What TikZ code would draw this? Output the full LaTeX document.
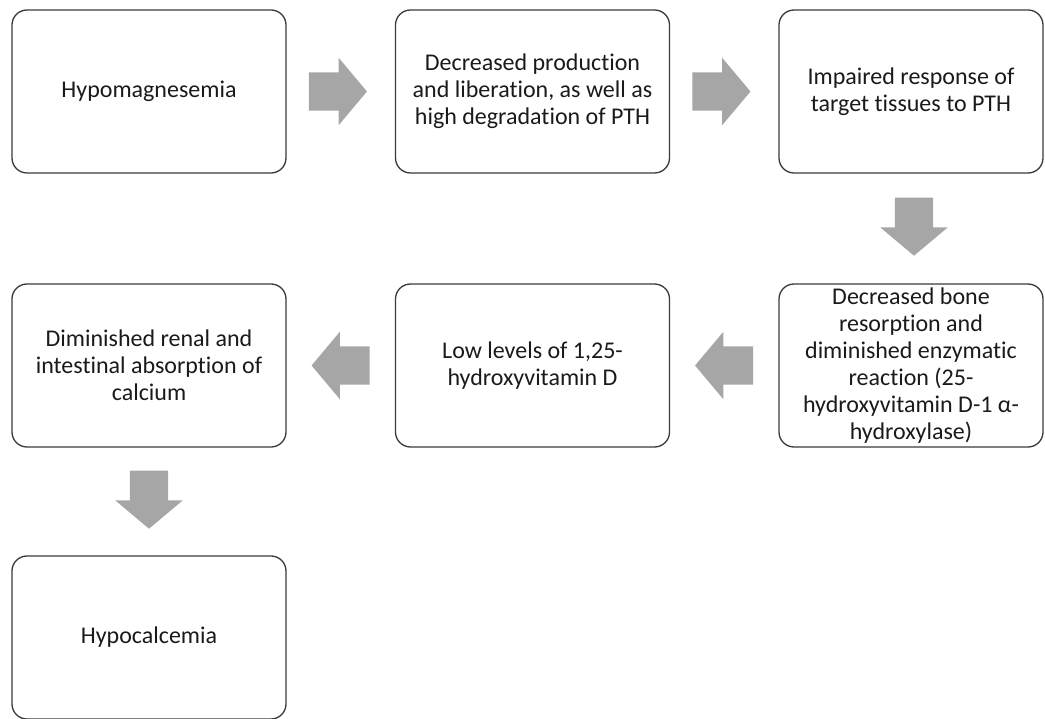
\documentclass[tikz,border=0pt]{standalone}
\usepackage{fontspec}
\setmainfont[Ligatures={NoCommon}]{Carlito}
\usetikzlibrary{shapes,arrows,positioning,calc}

\definecolor{boxline}{HTML}{3A3A3A}
\definecolor{arrowgray}{HTML}{A6A6A6}
\definecolor{txt}{HTML}{1A1A1A}

\tikzset{
	stepbox/.style={draw=boxline, line width=1.3pt, rounded corners=15pt, minimum width=274pt, minimum height=163pt, align=center, text=txt, font=\fontsize{24}{27}\selectfont, inner sep=0pt},
	flowarrow/.style={single arrow, draw=none, fill=arrowgray, minimum height=58pt, single arrow head extend=14.5pt, single arrow tip angle=100, inner xsep=0pt, inner ysep=19pt, text height=0pt, text depth=0pt, text width=0pt, anchor=tail}
}

\begin{document}
\begin{tikzpicture}[x=1pt,y=-1pt]
		\useasboundingbox (0,0) rectangle (1045,719);
		% first row
		\node[stepbox] (hypomag) at (149,91.5) {Hypomagnesemia};
		\node[stepbox] (pthprod) at (532.5,91.5) {Decreased production\\and liberation, as well as\\high degradation of PTH};
		\node[stepbox, minimum width=264pt] (impaired) at (911,91.5) {Impaired response of\\target tissues to PTH};
		% second row
		\node[stepbox, minimum width=264pt] (boneres) at (911,365.5) {Decreased bone\\resorption and\\diminished enzymatic\\reaction (25-\\hydroxyvitamin D-1 α-\\hydroxylase)};
		\node[stepbox] (lowvitd) at (532.5,365.5) {Low levels of 1,25-\\hydroxyvitamin D};
		\node[stepbox] (absorb) at (149,365.5) {Diminished renal and\\intestinal absorption of\\calcium};
		% last row
		\node[stepbox] (hypocal) at (149,637.5) {Hypocalcemia};
		% block arrows (tail placed half a length before the gap's middle)
		\node[flowarrow] (ar1) at ($(hypomag.east)!0.5!(pthprod.west)+(-32,0)$) {};
		\node[flowarrow] (ar2) at ($(pthprod.east)!0.5!(impaired.west)+(-32,0)$) {};
		\node[flowarrow, rotate=-90] (ar3) at ($(impaired.south)!0.5!(boneres.north)+(3,-31)$) {};
		\node[flowarrow, rotate=180] (ar4) at ($(boneres.west)!0.5!(lowvitd.east)+(29,0)$) {};
		\node[flowarrow, rotate=180] (ar5) at ($(lowvitd.west)!0.5!(absorb.east)+(29,0)$) {};
		\node[flowarrow, rotate=-90] (ar6) at ($(absorb.south)!0.5!(hypocal.north)+(0,-31)$) {};
	\end{tikzpicture}
\end{document}
